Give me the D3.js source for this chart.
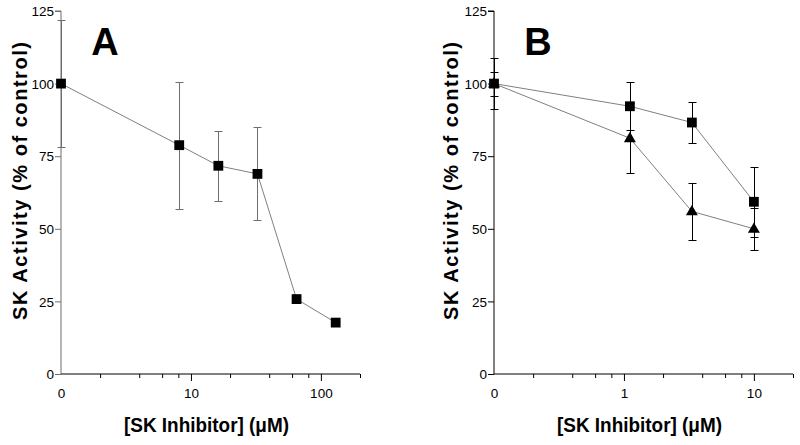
<!DOCTYPE html>
<html>
<head>
<meta charset="utf-8">
<script src="https://cdn.jsdelivr.net/npm/d3@7"></script>
<style>
  html, body { margin: 0; padding: 0; background: #fff; }
  svg { display: block; }
  text { font-family: "Liberation Sans", Arial, sans-serif; fill: #000; }
</style>
</head>
<body>
<svg id="chart" width="800" height="445"></svg>
<script>
// ---------- data ----------
const yTickValues = [0, 25, 50, 75, 100, 125];

// Panel A
const concA = [0, 8.125, 16.25, 32.5, 65, 130];
const meanA = [100, 78.8, 71.7, 68.9, 25.8, 17.7];
const errA  = [21.9, 21.9, 12.0, 16.0, 0, 0];
const xMajorA = [1, 10, 100];
const xMajorLabelsA = ["0", "10", "100"];
const xMinorA = [2, 4, 6, 8, 20, 40, 60, 80, 200];

// Panel B
const concB = [0, 1.111, 3.333, 10];
const meanBsq = [100, 92.2, 86.6, 59.3];
const errBsq  = [4.1, 8.2, 6.9, 12.1];
const meanBtri = [100, 81.2, 56.0, 50.0];
const errBtri  = [8.9, 12.1, 9.9, 7.2];
const xMajorB = [0.1, 1, 10];
const xMajorLabelsB = ["0", "1", "10"];
const xMinorB = [0.2, 0.4, 0.6, 0.8, 2, 4, 6, 8, 20];

const svg = d3.select("#chart");

function panel(cfg) {
  const g = svg.append("g");
  const x = d3.scaleLog().domain(cfg.xDomain).range(cfg.xRange);
  const y = d3.scaleLinear().domain([0, 125]).range([374, 11]);
  const xOrigin = cfg.xDomain[0];
  const px = c => x(c === 0 ? xOrigin : c);

  // y axis
  const yAxis = d3.axisLeft(y).tickValues(yTickValues).tickSize(6).tickPadding(1).tickFormat(d3.format("d"));
  const ya = g.append("g").attr("transform", `translate(${cfg.xRange[0]},0)`).call(yAxis);
  ya.select(".domain").attr("stroke", cfg.yAxisColor).attr("d", `M-6,${y(125)}H0V${y(0)}`);
  ya.selectAll(".tick line").attr("stroke", cfg.yAxisColor);
  ya.selectAll(".tick text").style("font-size", "13.5px").attr("fill", "#000").attr("dy", "0.35em");

  // x axis (major)
  const xAxis = d3.axisBottom(x).tickValues(cfg.major)
    .tickSize(7).tickPadding(7).tickFormat((d, i) => cfg.majorLabels[i]);
  const xa = g.append("g").attr("transform", `translate(0,${y(0)})`).call(xAxis);
  xa.select(".domain").attr("stroke", "#000").attr("d", `M${cfg.xRange[0]},0H${x(cfg.xDomain[1])}`);
  xa.selectAll(".tick line").attr("stroke", "#000").attr("y2", (d) => d === xOrigin ? 0 : 7);
  xa.selectAll(".tick text").style("font-size", "13.5px").attr("fill", "#000");
  // minor ticks
  const xm = d3.axisBottom(x).tickValues(cfg.minor).tickSize(4).tickFormat("");
  const xma = g.append("g").attr("transform", `translate(0,${y(0)})`).call(xm);
  xma.select(".domain").remove();
  xma.selectAll(".tick line").attr("stroke", "#000");

  // axis titles
  g.append("text")
    .attr("transform", `translate(${cfg.yTitleX},181) rotate(-90)`)
    .attr("text-anchor", "middle")
    .attr("textLength", 278).attr("lengthAdjust", "spacing")
    .style("font-size", "20px").style("font-weight", "bold")
    .text("SK Activity (% of control)");
  g.append("text")
    .attr("x", (cfg.xRange[0] + x(cfg.xDomain[1])) / 2 - 4)
    .attr("y", 432)
    .attr("text-anchor", "middle")
    .attr("textLength", 165).attr("lengthAdjust", "spacingAndGlyphs")
    .style("font-family", "'Liberation Sans Narrow', 'Arial Narrow', 'Liberation Sans', sans-serif")
    .style("font-size", "20px").style("font-weight", "bold")
    .text("[SK Inhibitor] (\u03BCM)");

  // panel letter
  g.append("text").attr("x", cfg.letterX).attr("y", 55)
    .attr("text-anchor", "middle")
    .style("font-size", "38px").style("font-weight", "bold")
    .text(cfg.letter);

  // series
  cfg.series.forEach(s => {
    const data = s.conc.map((c, i) => ({ c, m: s.mean[i], e: s.err[i] }));
    const line = d3.line().x(d => px(d.c)).y(d => y(d.m));
    g.append("path").datum(data).attr("d", line)
      .attr("fill", "none").attr("stroke", "#808080").attr("stroke-width", 1);
    // error bars
    const eb = g.append("g").attr("stroke", cfg.errColor).attr("stroke-width", 1).attr("fill", "none");
    data.filter(d => d.e > 0).forEach(d => {
      const cx = Math.round(px(d.c)) + 0.5;
      const t = Math.round(y(d.m + d.e)) + 0.5, b = Math.round(y(d.m - d.e)) + 0.5;
      eb.append("path").attr("d", `M${cx},${t}V${b}M${cx - 4},${t}H${cx + 4}M${cx - 4},${b}H${cx + 4}`);
    });
    const sym = d3.symbol().type(s.shape === "square" ? d3.symbolSquare : d3.symbolTriangle)
      .size(s.shape === "square" ? 96 : 62);
    g.append("g").selectAll("path").data(data).join("path")
      .attr("transform", d => `translate(${px(d.c)},${y(d.m) + (s.shape === "square" ? 0 : 0.5)})`)
      .attr("d", sym).attr("fill", "#000");
  });
}

panel({
  xDomain: [1, 200], xRange: [61, 360], major: xMajorA, majorLabels: xMajorLabelsA, minor: xMinorA,
  yAxisColor: "#6e6e6e", errColor: "#6e6e6e", yTitleX: 27, letter: "A", letterX: 105,
  series: [{ conc: concA, mean: meanA, err: errA, shape: "square" }]
});
panel({
  xDomain: [0.1, 20], xRange: [494, 793], major: xMajorB, majorLabels: xMajorLabelsB, minor: xMinorB,
  yAxisColor: "#000", errColor: "#000", yTitleX: 458, letter: "B", letterX: 538,
  series: [
    { conc: concB, mean: meanBtri, err: errBtri, shape: "triangle" },
    { conc: concB, mean: meanBsq, err: errBsq, shape: "square" }
  ]
});
</script>
</body>
</html>
